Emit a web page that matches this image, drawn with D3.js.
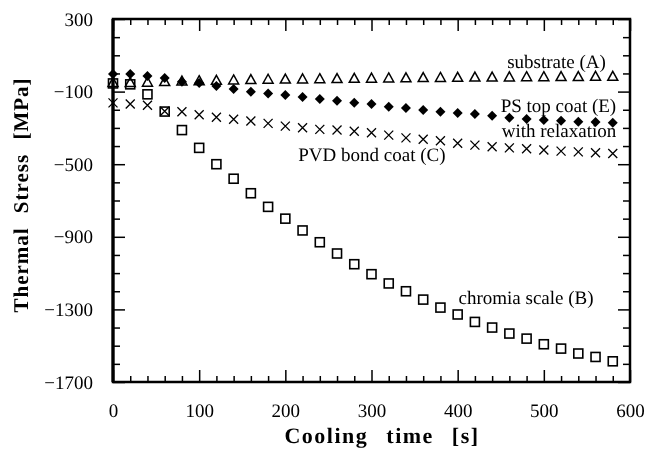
<!DOCTYPE html>
<html>
<head>
<meta charset="utf-8">
<script src="https://cdn.jsdelivr.net/npm/d3@7"></script>
<style>
    body { margin: 0; background: #fff; }
    svg { filter: grayscale(1); }
    svg text { font-family: "Liberation Serif", "Times New Roman", serif; fill: #000; text-rendering: geometricPrecision; }
</style>
</head>
<body>
<div id="chart"></div>
<script>
// cooling time [s], one sample every 20 s
const times = [0, 20, 40, 60, 80, 100, 120, 140, 160, 180, 200, 220, 240, 260, 280,
               300, 320, 340, 360, 380, 400, 420, 440, 460, 480, 500, 520, 540, 560, 580];

// thermal stress [MPa]
const substrateA = [-50, -50, -48, -45, -42, -40, -38, -36, -34, -32, -31, -30, -29, -28, -27,
                    -26, -25, -24, -23, -22, -21, -20, -20, -19, -18, -18, -17, -17, -16, -16];
const chromiaB = [-55, -60, -115, -210, -312, -410, -500, -580, -660, -735, -800, -865, -930, -992, -1051,
                  -1106, -1157, -1200, -1246, -1290, -1328, -1369, -1400, -1433, -1461, -1492, -1516, -1543, -1562, -1586];
const pvdBondC = [-162, -168, -175, -208, -211, -228, -241, -252, -262, -275, -290, -299, -308, -312, -318,
                  -327, -340, -355, -363, -371, -385, -395, -404, -410, -415, -422, -428, -432, -437, -441];
const psTopE = [-3, -3, -14, -25, -46, -53, -69, -86, -101, -110, -119, -130, -141, -150, -161,
                -169, -184, -191, -202, -211, -218, -224, -233, -244, -251, -257, -261, -266, -268, -272];

const xTicks = [0, 100, 200, 300, 400, 500, 600];
const yTicks = [300, -100, -500, -900, -1300, -1700];

// curve labels: text, anchor point in data units
const labels = [
    { text: "substrate (A)", t: 572, v: 30, anchor: "end" },
    { text: "PS top coat (E)", t: 584, v: -211, anchor: "end" },
    { text: "with relaxation", t: 584, v: -351, anchor: "end" },
    { text: "PVD bond coat (C)", t: 215, v: -481, anchor: "start" },
    { text: "chromia scale (B)", t: 401, v: -1271, anchor: "start" }
];

const width = 649, height = 449;
const margin = { top: 19, right: 19, bottom: 67, left: 113 };
const innerW = width - margin.left - margin.right;
const innerH = height - margin.top - margin.bottom;

const svg = d3.select("#chart").append("svg").attr("width", width).attr("height", height);
const g = svg.append("g").attr("transform", `translate(${margin.left},${margin.top})`);

const x = d3.scaleLinear().domain([0, 600]).range([0, innerW]);
const y = d3.scaleLinear().domain([-1700, 300]).range([innerH, 0]);

const minorX = d3.range(0, 601, 20).filter(d => d % 100 !== 0);
const minorY = d3.range(-1700, 301, 100).filter(d => (d + 1700) % 400 !== 0);

function styleAxis(sel) {
    sel.attr("font-family", null);
    sel.select(".domain").remove();
    sel.selectAll("line").attr("stroke", "#000").attr("stroke-width", 1.5);
    sel.selectAll("text").style("font-size", "19px");
}

// major + minor ticks on all four sides, pointing inward
g.append("g").attr("transform", `translate(0,${innerH})`)
    .call(d3.axisBottom(x).tickValues(xTicks).tickSize(-12).tickPadding(22).tickFormat(d3.format("d")))
    .call(styleAxis);
g.append("g").attr("transform", `translate(0,${innerH})`)
    .call(d3.axisBottom(x).tickValues(minorX).tickSize(-6).tickFormat(""))
    .call(styleAxis);
g.append("g")
    .call(d3.axisTop(x).tickValues(xTicks).tickSize(-12).tickFormat(""))
    .call(styleAxis);
g.append("g")
    .call(d3.axisTop(x).tickValues(minorX).tickSize(-6).tickFormat(""))
    .call(styleAxis);

g.append("g")
    .call(d3.axisLeft(y).tickValues(yTicks).tickSize(-12).tickPadding(20).tickFormat(d3.format("d")))
    .call(styleAxis);
g.append("g")
    .call(d3.axisLeft(y).tickValues(minorY).tickSize(-7).tickFormat(""))
    .call(styleAxis);
g.append("g").attr("transform", `translate(${innerW},0)`)
    .call(d3.axisRight(y).tickValues(yTicks).tickSize(-12).tickFormat(""))
    .call(styleAxis);
g.append("g").attr("transform", `translate(${innerW},0)`)
    .call(d3.axisRight(y).tickValues(minorY).tickSize(-7).tickFormat(""))
    .call(styleAxis);

// frame (left side drawn a bit heavier, as in the original)
g.append("rect")
    .attr("x", 0).attr("y", 0)
    .attr("width", innerW).attr("height", innerH)
    .attr("fill", "none").attr("stroke", "#000").attr("stroke-width", 2.5);
g.append("line")
    .attr("x1", 0).attr("x2", 0).attr("y1", 0).attr("y2", innerH)
    .attr("stroke", "#000").attr("stroke-width", 3.2);

function points(values) {
    return values.map((v, i) => ({ t: times[i], v: v }));
}

// substrate (A): open triangles
g.append("g").selectAll("path")
    .data(points(substrateA))
    .join("path")
    .attr("transform", d => `translate(${x(d.t)},${y(d.v)})`)
    .attr("d", "M0,-5L5,4L-5,4Z")
    .attr("fill", "none").attr("stroke", "#000").attr("stroke-width", 1.5);

// chromia scale (B): open squares
g.append("g").selectAll("rect")
    .data(points(chromiaB))
    .join("rect")
    .attr("x", d => x(d.t) - 4.5)
    .attr("y", d => y(d.v) - 4.5)
    .attr("width", 9).attr("height", 9)
    .attr("fill", "none").attr("stroke", "#000").attr("stroke-width", 1.6);

// PVD bond coat (C): crosses
g.append("g").selectAll("path")
    .data(points(pvdBondC))
    .join("path")
    .attr("transform", d => `translate(${x(d.t)},${y(d.v)})`)
    .attr("d", "M-4.5,-4.5L4.5,4.5M-4.5,4.5L4.5,-4.5")
    .attr("fill", "none").attr("stroke", "#000").attr("stroke-width", 1.3);

// PS top coat (E): filled diamonds
g.append("g").selectAll("path")
    .data(points(psTopE))
    .join("path")
    .attr("transform", d => `translate(${x(d.t)},${y(d.v)})`)
    .attr("d", "M0,-5L5,0L0,5L-5,0Z")
    .attr("fill", "#000");

g.append("g").selectAll("text")
    .data(labels)
    .join("text")
    .attr("x", d => x(d.t))
    .attr("y", d => y(d.v))
    .attr("text-anchor", d => d.anchor)
    .style("font-size", "19px")
    .text(d => d.text);

// axis titles
svg.append("text")
    .attr("x", 382).attr("y", 443)
    .attr("text-anchor", "middle")
    .style("font-size", "22px").style("font-weight", "bold")
    .style("letter-spacing", "1.5px").style("word-spacing", "11px")
    .text("Cooling time [s]");

svg.append("text")
    .attr("transform", "translate(28,195) rotate(-90)")
    .attr("text-anchor", "middle")
    .style("font-size", "21px").style("font-weight", "bold")
    .style("letter-spacing", "1px").style("word-spacing", "8px")
    .text("Thermal Stress [MPa]");
</script>
</body>
</html>
